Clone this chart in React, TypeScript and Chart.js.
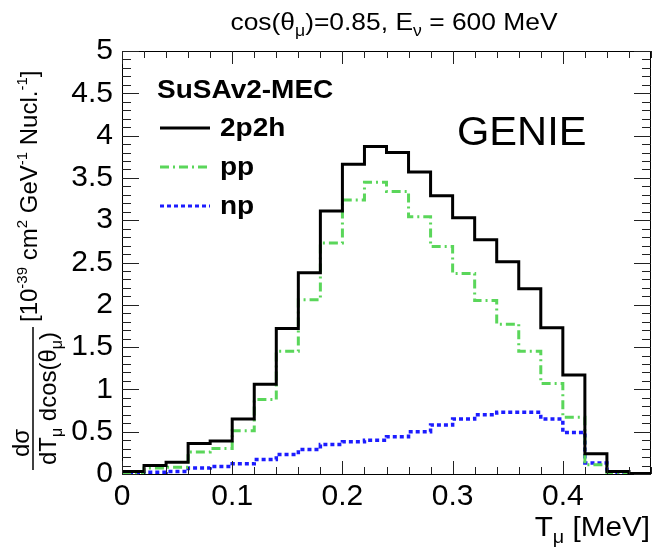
import React, { useEffect, useRef } from 'react';
import { Chart, registerables } from 'chart.js';

Chart.register(...registerables);

// ---- data ----
const binEdges = [0, 0.02, 0.04, 0.06, 0.08, 0.1, 0.12, 0.14, 0.16, 0.18, 0.2, 0.22, 0.24, 0.26, 0.28, 0.3, 0.32, 0.34, 0.36, 0.38, 0.4, 0.42, 0.44, 0.46, 0.48];
const values2p2h = [0.03, 0.1, 0.14, 0.36, 0.39, 0.65, 1.06, 1.72, 2.38, 3.11, 3.66, 3.87, 3.8, 3.57, 3.29, 3.03, 2.77, 2.51, 2.19, 1.73, 1.17, 0.24, 0.03, 0.005];
const valuesPP = [0.01, 0.07, 0.08, 0.26, 0.3, 0.51, 0.88, 1.45, 2.06, 2.73, 3.24, 3.45, 3.34, 3.04, 2.69, 2.37, 2.05, 1.77, 1.45, 1.07, 0.67, 0.11, 0.01, 0.0];
const valuesNP = [0.0, 0.02, 0.03, 0.07, 0.09, 0.12, 0.17, 0.23, 0.29, 0.35, 0.38, 0.4, 0.44, 0.5, 0.58, 0.65, 0.7, 0.73, 0.73, 0.65, 0.49, 0.13, 0.01, 0.0];
const xTickValues = [0, 0.1, 0.2, 0.3, 0.4];
const yTickValues = [0, 0.5, 1, 1.5, 2, 2.5, 3, 3.5, 4, 4.5, 5];
const xMinorStep = 0.02;
const yMinorStep = 0.1;
const seriesNames = ['2p2h', 'pp', 'np'];
const legendHeader = 'SuSAv2-MEC';
const generatorLabel = 'GENIE';

const FONT = "'Liberation Sans', Arial, Helvetica, sans-serif";
const GREEN = '#5ad65a';
const BLUE = '#1c1cff';

type Seg = { t: string; size: number; bold?: boolean; dy?: number };

function drawRich(ctx: CanvasRenderingContext2D, segs: Seg[], x: number, y: number, sx = 1, align: 'left' | 'center' | 'right' = 'left') {
  ctx.save();
  ctx.translate(x, y);
  ctx.scale(sx, 1);
  ctx.textAlign = 'left';
  ctx.textBaseline = 'alphabetic';
  let total = 0;
  for (const s of segs) {
    ctx.font = `${s.bold ? 'bold ' : ''}${s.size}px ${FONT}`;
    total += ctx.measureText(s.t).width;
  }
  let cx = align === 'left' ? 0 : align === 'right' ? -total : -total / 2;
  for (const s of segs) {
    ctx.font = `${s.bold ? 'bold ' : ''}${s.size}px ${FONT}`;
    ctx.fillText(s.t, cx, s.dy || 0);
    cx += ctx.measureText(s.t).width;
  }
  ctx.restore();
}

function toSteps(vals: number[]) {
  return binEdges.map((x, i) => ({ x, y: vals[Math.min(i, vals.length - 1)] }));
}

const rootDecor = {
  id: 'rootDecor',
  afterDatasetsDraw(chart: any) {
    const { ctx, chartArea: a, scales } = chart;
    const xs = scales.x;
    const ys = scales.y;
    ctx.save();
    // frame
    ctx.strokeStyle = '#000';
    ctx.lineWidth = 1;
    ctx.strokeRect(Math.round(a.left) + 0.5, Math.round(a.top) + 0.5, Math.round(a.right - a.left) - 1, Math.round(a.bottom - a.top));
    // ticks
    ctx.strokeStyle = '#222';
    ctx.beginPath();
    const nx = Math.round((xs.max - xs.min) / xMinorStep);
    for (let i = 0; i <= nx; i++) {
      const v = xs.min + i * xMinorStep;
      const px = Math.round(xs.getPixelForValue(v)) + 0.5;
      const len = i % 5 === 0 ? 13 : 7;
      ctx.moveTo(px, a.bottom);
      ctx.lineTo(px, a.bottom - len);
      ctx.moveTo(px, a.top);
      ctx.lineTo(px, a.top + len);
    }
    const ny = Math.round((ys.max - ys.min) / yMinorStep);
    for (let i = 0; i <= ny; i++) {
      const v = ys.min + i * yMinorStep;
      const py = Math.round(ys.getPixelForValue(v)) + 0.5;
      const len = i % 5 === 0 ? 17 : 9;
      ctx.moveTo(a.left, py);
      ctx.lineTo(a.left + len, py);
      ctx.moveTo(a.right, py);
      ctx.lineTo(a.right - len, py);
    }
    ctx.stroke();

    ctx.fillStyle = '#000';
    // title
    drawRich(ctx, [
      { t: 'cos(θ', size: 24 },
      { t: 'μ', size: 16, dy: 6 },
      { t: ')=0.85, E', size: 24 },
      { t: 'ν', size: 16, dy: 6 },
      { t: ' = 600 MeV', size: 24 },
    ], 394, 30, 1.1, 'center');

    // legend
    drawRich(ctx, [{ t: legendHeader, size: 25, bold: true }], 157, 98, 1.12);
    const legendY = [128, 167, 206];
    const styles = [
      { color: '#000', dash: [] as number[] },
      { color: GREEN, dash: [9, 4, 2, 4] },
      { color: BLUE, dash: [4, 3] },
    ];
    ctx.lineWidth = 3;
    styles.forEach((s, i) => {
      ctx.strokeStyle = s.color;
      ctx.setLineDash(s.dash);
      ctx.beginPath();
      ctx.moveTo(160, legendY[i]);
      ctx.lineTo(210, legendY[i]);
      ctx.stroke();
    });
    ctx.setLineDash([]);
    seriesNames.forEach((n, i) => {
      drawRich(ctx, [{ t: n, size: 25, bold: true }], 220, legendY[i] + 8, 1.12);
    });

    // GENIE
    drawRich(ctx, [{ t: generatorLabel, size: 40 }], 457, 145, 1.04);

    // x title
    drawRich(ctx, [
      { t: 'T', size: 27 },
      { t: 'μ', size: 18, dy: 7 },
      { t: ' [MeV]', size: 27 },
    ], 650, 536, 1.1, 'right');

    // y title (rotated)
    ctx.save();
    ctx.rotate(-Math.PI / 2);
    drawRich(ctx, [{ t: 'dσ', size: 24 }], -443, 29, 1, 'center');
    drawRich(ctx, [
      { t: 'dT', size: 24 },
      { t: 'μ', size: 16, dy: 6 },
      { t: ' dcos(θ', size: 24 },
      { t: 'μ', size: 16, dy: 6 },
      { t: ')', size: 24 },
    ], -398.5, 56, 1, 'center');
    drawRich(ctx, [
      { t: '[10', size: 24 },
      { t: '-39', size: 15, dy: -10 },
      { t: ' cm', size: 24 },
      { t: '2', size: 15, dy: -10 },
      { t: ' GeV', size: 24 },
      { t: '-1', size: 15, dy: -10 },
      { t: ' Nucl.', size: 24 },
      { t: '-1', size: 15, dy: -10 },
      { t: ']', size: 24 },
    ], -322, 37, 1, 'left');
    ctx.restore();
    // fraction bar
    ctx.strokeStyle = '#000';
    ctx.lineWidth = 1.5;
    ctx.beginPath();
    ctx.moveTo(33, 327);
    ctx.lineTo(33, 470);
    ctx.stroke();

    ctx.restore();
  },
};

export default function App() {
  const ref = useRef<HTMLCanvasElement | null>(null);
  useEffect(() => {
    if (!ref.current) return;
    const tickFont = { family: FONT, size: 30 };
    const chart = new Chart(ref.current, {
      type: 'line',
      data: {
        datasets: [
          { label: seriesNames[0], data: toSteps(values2p2h), borderColor: '#000', borderWidth: 3, stepped: true, pointRadius: 0, fill: false },
          { label: seriesNames[1], data: toSteps(valuesPP), borderColor: GREEN, borderWidth: 3, borderDash: [9, 4, 2, 4], stepped: true, pointRadius: 0, fill: false },
          { label: seriesNames[2], data: toSteps(valuesNP), borderColor: BLUE, borderWidth: 3.5, borderDash: [4, 3], stepped: true, pointRadius: 0, fill: false },
        ],
      },
      options: {
        animation: false,
        responsive: false,
        maintainAspectRatio: false,
        events: [],
        layout: { padding: { top: 51, right: 2, left: 0, bottom: 0 } },
        plugins: { legend: { display: false }, tooltip: { enabled: false }, title: { display: false } },
        scales: {
          x: {
            type: 'linear',
            min: 0,
            max: 0.48,
            grid: { display: false, drawTicks: false },
            border: { display: false },
            ticks: {
              font: tickFont,
              color: '#000',
              padding: 5,
              maxRotation: 0,
              autoSkip: false,
              callback: (v: any) => String(Number(Number(v).toFixed(2))),
            },
            afterBuildTicks: (s: any) => { s.ticks = xTickValues.map((v) => ({ value: v })); },
            afterFit: (s: any) => { s.height = 73; },
          },
          y: {
            type: 'linear',
            min: 0,
            max: 5,
            grid: { display: false, drawTicks: false },
            border: { display: false },
            ticks: {
              font: tickFont,
              color: '#000',
              padding: 9,
              autoSkip: false,
              callback: (v: any) => String(Number(Number(v).toFixed(2))),
            },
            afterBuildTicks: (s: any) => { s.ticks = yTickValues.map((v) => ({ value: v })); },
            afterFit: (s: any) => { s.width = 122; },
          },
        },
      },
      plugins: [rootDecor],
    } as any);
    return () => chart.destroy();
  }, []);
  return (
    <div style={{ position: 'fixed', left: 0, top: 0, width: 653, height: 547, background: '#fff' }}>
      <canvas ref={ref} width={653} height={547} style={{ display: 'block' }} />
    </div>
  );
}
